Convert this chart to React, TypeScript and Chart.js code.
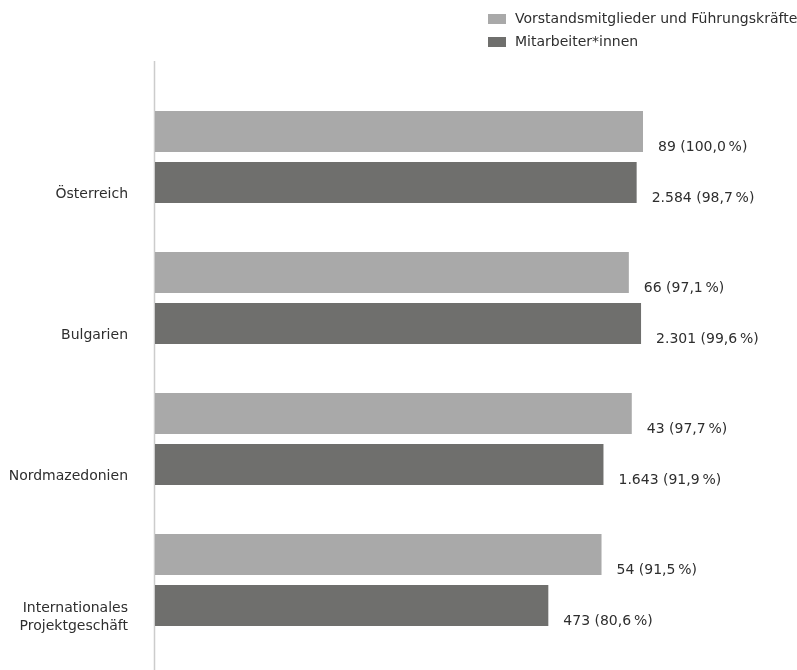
import React, { useEffect, useRef } from "react";
import { Chart, registerables } from "chart.js";

Chart.register(...registerables);

const categories: (string | string[])[] = [
  "Österreich",
  "Bulgarien",
  "Nordmazedonien",
  ["Internationales", "Projektgeschäft"],
];
const seriesNames = ["Vorstandsmitglieder und Führungskräfte", "Mitarbeiter*innen"];
const managersCount = [89, 66, 43, 54];
const managersPct = [100.0, 97.1, 97.7, 91.5];
const staffCount = [2584, 2301, 1643, 473];
const staffPct = [98.7, 99.6, 91.9, 80.6];
const counts = [managersCount, staffCount];
const colors = ["#a9a9a9", "#6f6f6d"];

const FONT = "'DejaVu Sans', sans-serif";
const TEXT = "#2e2e2e";

function fmtCount(n: number): string {
  return String(n).replace(/\B(?=(\d{3})+(?!\d))/g, ".");
}
function fmtPct(p: number): string {
  return p.toFixed(1).replace(".", ",") + "\u2009%";
}

const axisLinePlugin = {
  id: "axisLine",
  beforeDatasetsDraw(chart: any) {
    const { ctx, chartArea } = chart;
    ctx.save();
    ctx.strokeStyle = "#cccccc";
    ctx.lineWidth = 1.5;
    ctx.beginPath();
    ctx.moveTo(chartArea.left - 0.5, chartArea.top - 25.5);
    ctx.lineTo(chartArea.left - 0.5, chart.height);
    ctx.stroke();
    ctx.restore();
  },
};

const valueLabelPlugin = {
  id: "valueLabels",
  afterDatasetsDraw(chart: any) {
    const { ctx } = chart;
    ctx.save();
    ctx.font = `14px ${FONT}`;
    ctx.fillStyle = TEXT;
    ctx.textAlign = "left";
    ctx.textBaseline = "middle";
    chart.data.datasets.forEach((ds: any, di: number) => {
      const meta = chart.getDatasetMeta(di);
      meta.data.forEach((el: any, i: number) => {
        const txt = `${fmtCount(counts[di][i])} (${fmtPct(ds.data[i])})`;
        ctx.fillText(txt, el.x + 15, el.y + el.height / 2 - 4.5);
      });
    });
    ctx.restore();
  },
};

const legendPlugin = {
  id: "customLegend",
  afterDraw(chart: any) {
    const { ctx } = chart;
    ctx.save();
    ctx.font = `14px ${FONT}`;
    ctx.textAlign = "left";
    ctx.textBaseline = "middle";
    chart.data.datasets.forEach((ds: any, di: number) => {
      const cy = 19 + di * 23;
      ctx.fillStyle = ds.backgroundColor;
      ctx.fillRect(488, cy - 5, 18, 10);
      ctx.fillStyle = TEXT;
      ctx.fillText(ds.label, 515, cy);
    });
    ctx.restore();
  },
};

export default function App() {
  const ref = useRef<HTMLCanvasElement | null>(null);
  useEffect(() => {
    if (!ref.current) return;
    const chart = new Chart(ref.current, {
      type: "bar",
      data: {
        labels: categories as any,
        datasets: [
          {
            label: seriesNames[0],
            data: managersPct,
            backgroundColor: colors[0],
            categoryPercentage: 0.7234,
            barPercentage: 0.8,
          },
          {
            label: seriesNames[1],
            data: staffPct,
            backgroundColor: colors[1],
            categoryPercentage: 0.7234,
            barPercentage: 0.8,
          },
        ],
      },
      options: {
        indexAxis: "y",
        responsive: false,
        animation: false,
        layout: { padding: { top: 86.5, bottom: 19.5, left: 0, right: 56.4 } },
        plugins: {
          legend: { display: false },
          tooltip: { enabled: false },
        },
        scales: {
          x: {
            display: false,
            min: 0,
            max: 120,
          },
          y: {
            offset: true,
            grid: { display: false, drawTicks: false },
            border: { display: false },
            ticks: {
              padding: 27,
              labelOffset: 37,
              color: TEXT,
              font: { family: FONT, size: 14, lineHeight: 1.3 },
            },
            afterFit(scale: any) {
              scale.width = 155;
              scale.paddingTop = 0;
              scale.paddingBottom = 0;
            },
          },
        },
      },
      plugins: [axisLinePlugin, valueLabelPlugin, legendPlugin],
    });
    return () => chart.destroy();
  }, []);
  return (
    <div style={{ position: "absolute", left: 0, top: 0, width: 797, height: 670, background: "#fff" }}>
      <canvas ref={ref} width={797} height={670} style={{ display: "block" }} />
    </div>
  );
}
